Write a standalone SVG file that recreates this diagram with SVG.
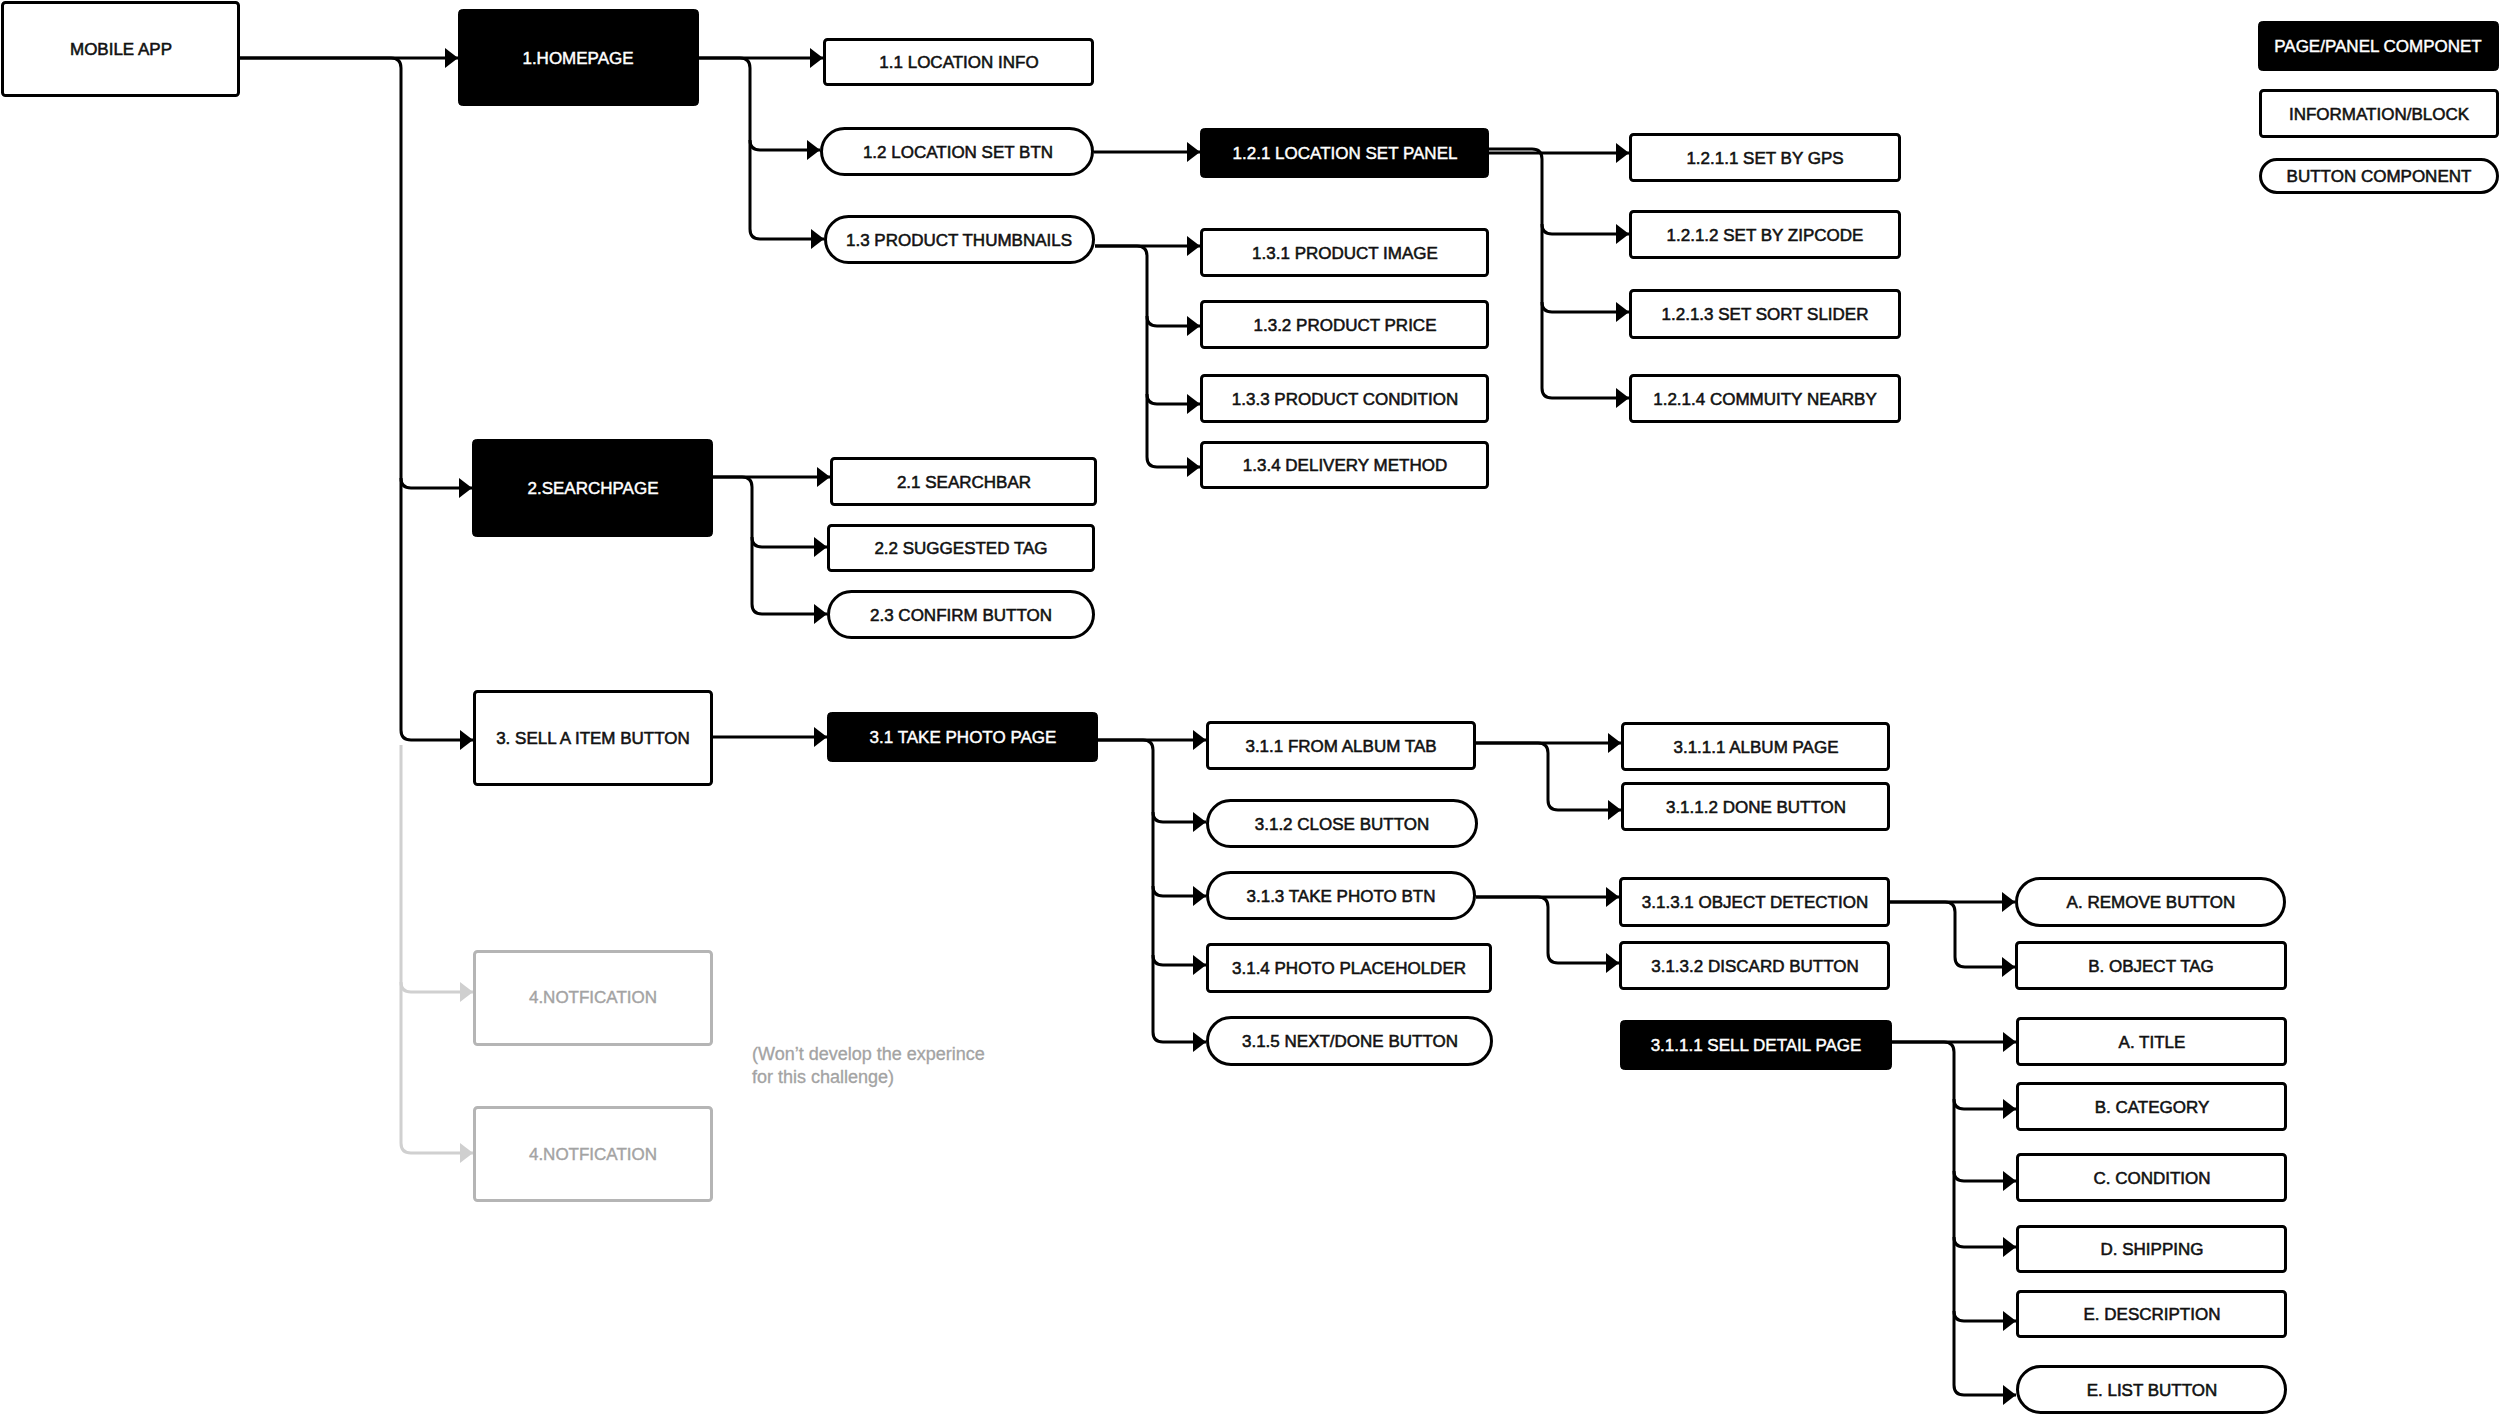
<svg xmlns="http://www.w3.org/2000/svg" width="2500" height="1415" viewBox="0 0 2500 1415">
<defs>
<marker id="ah" markerUnits="userSpaceOnUse" markerWidth="14" markerHeight="22" refX="13" refY="10" orient="auto"><path d="M0,0 L13,10 L0,20 z" fill="#000"/></marker>
<marker id="ahg" markerUnits="userSpaceOnUse" markerWidth="14" markerHeight="22" refX="13" refY="10" orient="auto"><path d="M0,0 L13,10 L0,20 z" fill="#cfcfcf"/></marker>
</defs>
<style>
text{font-family:"Liberation Sans",Arial,sans-serif;font-size:17px;text-anchor:middle;dominant-baseline:central;fill:#111;stroke:#111;stroke-width:0.55px}
.page rect{fill:#000;stroke:#000;stroke-width:1}
.page text{fill:#fff;stroke:#fff;stroke-width:0.45px}
.info rect,.btn rect{fill:#fff;stroke:#000;stroke-width:3}
.gray rect{fill:#fff;stroke:#b5b5b5;stroke-width:3}
.gray text{fill:#a3a3a3;stroke:#a3a3a3;stroke-width:0.4px}
.note{fill:#a3a3a3;stroke:#a3a3a3;stroke-width:0.3px;font-size:18px;text-anchor:start;dominant-baseline:auto}
#connectors path{fill:none;stroke:#000;stroke-width:3;marker-end:url(#ah)}
#connectors path.nm{marker-end:none}
#connectors path.g{stroke:#d0d0d0;marker-end:url(#ahg)}
</style>
<rect width="2500" height="1415" fill="#fff"/>

<g id="connectors">
<path class="g" d="M401,745 V1143 Q401,1153 411,1153 H473"/>
<path class="g" d="M401,982 Q401,992 411,992 H473"/>
<path d="M240,58 H458"/>
<path d="M240,58 H391 Q401,58 401,68 V730 Q401,740 411,740 H473"/>
<path d="M401,478 Q401,488 411,488 H472"/>
<path d="M699,58 H823"/>
<path d="M699,58 H740 Q750,58 750,68 V229 Q750,239 760,239 H824"/>
<path d="M750,140 Q750,150 760,150 H820"/>
<path d="M1094,152 H1200"/>
<path d="M1489,153 H1629"/>
<path d="M1489,149 H1532 Q1542,149 1542,159 V388 Q1542,398 1552,398 H1629"/>
<path d="M1542,224 Q1542,234 1552,234 H1629"/>
<path d="M1542,302 Q1542,312 1552,312 H1629"/>
<path d="M1095,246 H1200"/>
<path d="M1095,246 H1137 Q1147,246 1147,256 V457 Q1147,467 1157,467 H1200"/>
<path d="M1147,316 Q1147,326 1157,326 H1200"/>
<path d="M1147,394 Q1147,404 1157,404 H1200"/>
<path d="M713,477 H830"/>
<path d="M713,477 H742 Q752,477 752,487 V604 Q752,614 762,614 H827"/>
<path d="M752,537 Q752,547 762,547 H827"/>
<path d="M713,737 H827"/>
<path d="M1098,740 H1206"/>
<path d="M1098,740 H1143 Q1153,740 1153,750 V1032 Q1153,1042 1163,1042 H1206"/>
<path d="M1153,812 Q1153,822 1163,822 H1206"/>
<path d="M1153,886 Q1153,896 1163,896 H1206"/>
<path d="M1153,955 Q1153,965 1163,965 H1206"/>
<path d="M1476,743 H1621"/>
<path d="M1476,743 H1538 Q1548,743 1548,753 V800 Q1548,810 1558,810 H1621"/>
<path d="M1476,897 H1619"/>
<path d="M1476,897 H1538 Q1548,897 1548,907 V953 Q1548,963 1558,963 H1619"/>
<path d="M1890,902 H2015"/>
<path d="M1890,902 H1945 Q1955,902 1955,912 V957 Q1955,967 1965,967 H2015"/>
<path d="M1892,1042 H2016"/>
<path d="M1892,1042 H1944 Q1954,1042 1954,1052 V1385 Q1954,1395 1964,1395 H2016"/>
<path d="M1954,1099 Q1954,1109 1964,1109 H2016"/>
<path d="M1954,1171 Q1954,1181 1964,1181 H2016"/>
<path d="M1954,1237 Q1954,1247 1964,1247 H2016"/>
<path d="M1954,1311 Q1954,1321 1964,1321 H2016"/>
</g>

<g id="n-mobile" class="info"><rect x="2.5" y="2.5" width="236" height="93" rx="3"/><text x="121" y="49">MOBILE APP</text></g>
<g id="n-1" class="page"><rect x="458.5" y="9.5" width="240" height="96" rx="4"/><text x="578" y="58">1.HOMEPAGE</text></g>
<g id="n-1-1" class="info"><rect x="824.5" y="39.5" width="268" height="45" rx="3"/><text x="959" y="62">1.1 LOCATION INFO</text></g>
<g id="n-1-2" class="btn"><rect x="821.5" y="128.5" width="271" height="46" rx="23"/><text x="958" y="152">1.2 LOCATION SET BTN</text></g>
<g id="n-1-2-1" class="page"><rect x="1200.5" y="128.5" width="288" height="49" rx="4"/><text x="1345" y="153">1.2.1 LOCATION SET PANEL</text></g>
<g id="n-1-2-1-1" class="info"><rect x="1630.5" y="134.5" width="269" height="46" rx="3"/><text x="1765" y="158">1.2.1.1 SET BY GPS</text></g>
<g id="n-1-2-1-2" class="info"><rect x="1630.5" y="211.5" width="269" height="46" rx="3"/><text x="1765" y="235">1.2.1.2 SET BY ZIPCODE</text></g>
<g id="n-1-2-1-3" class="info"><rect x="1630.5" y="290.5" width="269" height="47" rx="3"/><text x="1765" y="314">1.2.1.3 SET SORT SLIDER</text></g>
<g id="n-1-2-1-4" class="info"><rect x="1630.5" y="375.5" width="269" height="46" rx="3"/><text x="1765" y="399">1.2.1.4 COMMUITY NEARBY</text></g>
<g id="n-1-3" class="btn"><rect x="825.5" y="216.5" width="268" height="46" rx="23"/><text x="959" y="240">1.3 PRODUCT THUMBNAILS</text></g>
<g id="n-1-3-1" class="info"><rect x="1201.5" y="229.5" width="286" height="46" rx="3"/><text x="1345" y="253">1.3.1 PRODUCT IMAGE</text></g>
<g id="n-1-3-2" class="info"><rect x="1201.5" y="301.5" width="286" height="46" rx="3"/><text x="1345" y="325">1.3.2 PRODUCT PRICE</text></g>
<g id="n-1-3-3" class="info"><rect x="1201.5" y="375.5" width="286" height="46" rx="3"/><text x="1345" y="399">1.3.3 PRODUCT CONDITION</text></g>
<g id="n-1-3-4" class="info"><rect x="1201.5" y="442.5" width="286" height="45" rx="3"/><text x="1345" y="465">1.3.4 DELIVERY METHOD</text></g>
<g id="n-2" class="page"><rect x="472.5" y="439.5" width="240" height="97" rx="4"/><text x="593" y="488">2.SEARCHPAGE</text></g>
<g id="n-2-1" class="info"><rect x="831.5" y="458.5" width="264" height="46" rx="3"/><text x="964" y="482">2.1 SEARCHBAR</text></g>
<g id="n-2-2" class="info"><rect x="828.5" y="525.5" width="265" height="45" rx="3"/><text x="961" y="548">2.2 SUGGESTED TAG</text></g>
<g id="n-2-3" class="btn"><rect x="828.5" y="591.5" width="265" height="46" rx="23"/><text x="961" y="615">2.3 CONFIRM BUTTON</text></g>
<g id="n-3" class="info"><rect x="474.5" y="691.5" width="237" height="93" rx="3"/><text x="593" y="738">3. SELL A ITEM BUTTON</text></g>
<g id="n-3-1" class="page"><rect x="827.5" y="712.5" width="270" height="49" rx="4"/><text x="963" y="737">3.1 TAKE PHOTO PAGE</text></g>
<g id="n-3-1-1" class="info"><rect x="1207.5" y="722.5" width="267" height="46" rx="3"/><text x="1341" y="746">3.1.1 FROM ALBUM TAB</text></g>
<g id="n-3-1-2" class="btn"><rect x="1207.5" y="800.5" width="269" height="46" rx="23"/><text x="1342" y="824">3.1.2 CLOSE BUTTON</text></g>
<g id="n-3-1-3" class="btn"><rect x="1207.5" y="872.5" width="267" height="46" rx="23"/><text x="1341" y="896">3.1.3 TAKE PHOTO BTN</text></g>
<g id="n-3-1-4" class="info"><rect x="1207.5" y="944.5" width="283" height="47" rx="3"/><text x="1349" y="968">3.1.4 PHOTO PLACEHOLDER</text></g>
<g id="n-3-1-5" class="btn"><rect x="1207.5" y="1017.5" width="284" height="47" rx="23.5"/><text x="1350" y="1041">3.1.5 NEXT/DONE BUTTON</text></g>
<g id="n-3-1-1-1" class="info"><rect x="1622.5" y="723.5" width="266" height="46" rx="3"/><text x="1756" y="747">3.1.1.1 ALBUM PAGE</text></g>
<g id="n-3-1-1-2" class="info"><rect x="1622.5" y="783.5" width="266" height="46" rx="3"/><text x="1756" y="807">3.1.1.2 DONE BUTTON</text></g>
<g id="n-3-1-3-1" class="info"><rect x="1620.5" y="878.5" width="268" height="47" rx="3"/><text x="1755" y="902">3.1.3.1 OBJECT DETECTION</text></g>
<g id="n-3-1-3-2" class="info"><rect x="1620.5" y="942.5" width="268" height="46" rx="3"/><text x="1755" y="966">3.1.3.2 DISCARD BUTTON</text></g>
<g id="n-a-remove" class="btn"><rect x="2016.5" y="878.5" width="268" height="47" rx="23.5"/><text x="2151" y="902">A. REMOVE BUTTON</text></g>
<g id="n-b-tag" class="info"><rect x="2016.5" y="942.5" width="269" height="46" rx="3"/><text x="2151" y="966">B. OBJECT TAG</text></g>
<g id="n-sell-detail" class="page"><rect x="1620.5" y="1020.5" width="271" height="49" rx="4"/><text x="1756" y="1045">3.1.1.1 SELL DETAIL PAGE</text></g>
<g id="n-a-title" class="info"><rect x="2017.5" y="1018.5" width="268" height="46" rx="3"/><text x="2152" y="1042">A. TITLE</text></g>
<g id="n-b-cat" class="info"><rect x="2017.5" y="1083.5" width="268" height="46" rx="3"/><text x="2152" y="1107">B. CATEGORY</text></g>
<g id="n-c-cond" class="info"><rect x="2017.5" y="1154.5" width="268" height="46" rx="3"/><text x="2152" y="1178">C. CONDITION</text></g>
<g id="n-d-ship" class="info"><rect x="2017.5" y="1226.5" width="268" height="45" rx="3"/><text x="2152" y="1249">D. SHIPPING</text></g>
<g id="n-e-desc" class="info"><rect x="2017.5" y="1291.5" width="268" height="45" rx="3"/><text x="2152" y="1314">E. DESCRIPTION</text></g>
<g id="n-e-list" class="btn"><rect x="2017.5" y="1366.5" width="268" height="46" rx="23"/><text x="2152" y="1390">E. LIST BUTTON</text></g>
<g id="n-4a" class="gray"><rect x="474.5" y="951.5" width="237" height="93" rx="3"/><text x="593" y="997">4.NOTFICATION</text></g>
<g id="n-4b" class="gray"><rect x="474.5" y="1107.5" width="237" height="93" rx="3"/><text x="593" y="1154">4.NOTFICATION</text></g>
<g id="note"><text class="note" x="752" y="1060">(Won’t develop the experince</text><text class="note" x="752" y="1083">for this challenge)</text></g>
<g id="legend-page" class="page"><rect x="2258.5" y="21.5" width="240" height="49" rx="4"/><text x="2378" y="46">PAGE/PANEL COMPONET</text></g>
<g id="legend-info" class="info"><rect x="2260.5" y="90.5" width="237" height="46" rx="3"/><text x="2379" y="114">INFORMATION/BLOCK</text></g>
<g id="legend-btn" class="btn"><rect x="2260.5" y="159.5" width="237" height="33" rx="16.5"/><text x="2379" y="176">BUTTON COMPONENT</text></g>
</svg>
